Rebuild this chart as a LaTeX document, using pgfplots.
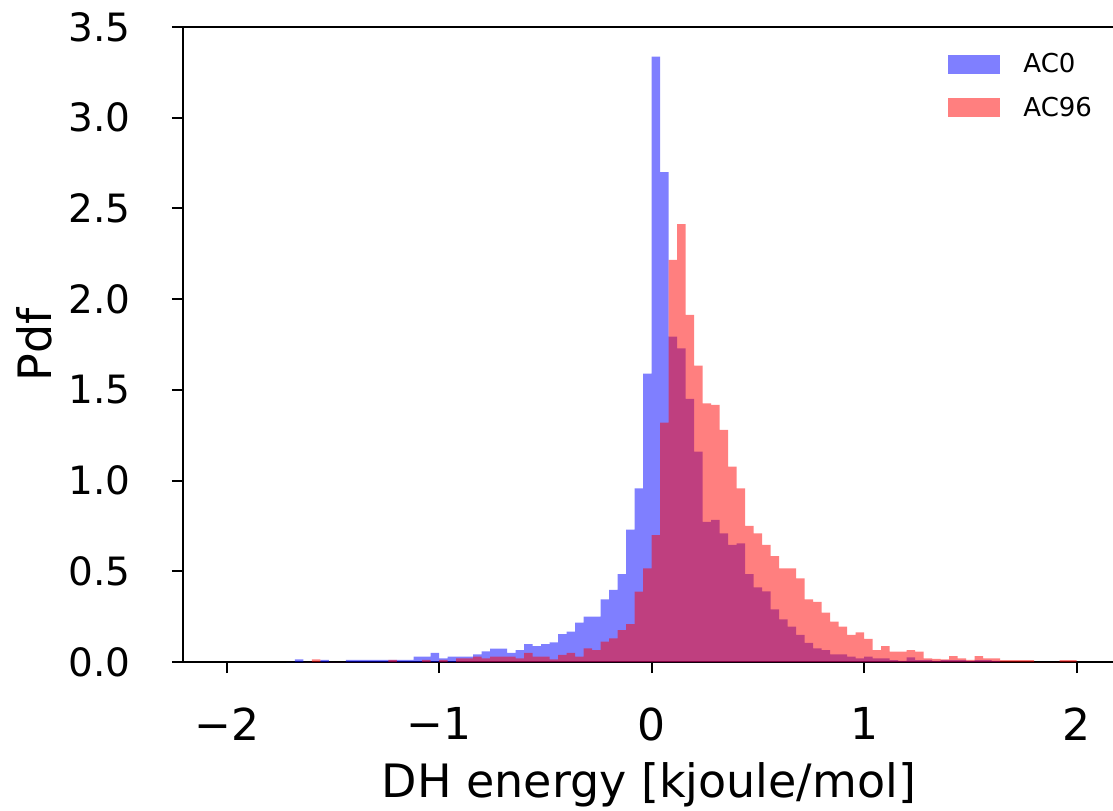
\documentclass[border=0pt]{standalone}
\usepackage{pgfplots}
\pgfplotsset{compat=1.18}
\usepackage{fontspec}
\setmainfont{DejaVu Sans}

% bin left edges (width 0.04) and pdf heights, last row closes the outline
\pgfplotstableread{
x y
-1.72 0
-1.68 0.015
-1.64 0
-1.60 0
-1.56 0.012
-1.52 0
-1.48 0
-1.44 0.012
-1.40 0.012
-1.36 0.012
-1.32 0.012
-1.28 0.012
-1.24 0.012
-1.20 0.012
-1.16 0.012
-1.12 0.03
-1.08 0.03
-1.04 0.05
-1.00 0.02
-0.96 0.03
-0.92 0.03
-0.88 0.03
-0.84 0.042
-0.80 0.059
-0.76 0.074
-0.72 0.074
-0.68 0.05
-0.64 0.066
-0.60 0.099
-0.56 0.088
-0.52 0.099
-0.48 0.108
-0.44 0.154
-0.40 0.167
-0.36 0.217
-0.32 0.25
-0.28 0.25
-0.24 0.345
-0.20 0.397
-0.16 0.485
-0.12 0.73
-0.08 0.957
-0.04 1.59
0.00 3.337
0.04 2.70
0.08 1.793
0.12 1.729
0.16 1.45
0.20 1.159
0.24 0.773
0.28 0.783
0.32 0.709
0.36 0.645
0.40 0.654
0.44 0.485
0.48 0.412
0.52 0.39
0.56 0.29
0.60 0.235
0.64 0.195
0.68 0.149
0.72 0.106
0.76 0.075
0.80 0.066
0.84 0.042
0.88 0.042
0.92 0.03
0.96 0.02
1.00 0.03
1.04 0.02
1.08 0.02
1.12 0.011
1.16 0.006
1.20 0.025
1.24 0.011
1.28 0.012
1.32 0.006
1.36 0.011
1.40 0.011
1.44 0.011
1.48 0.006
1.52 0.011
1.56 0.011
1.60 0.006
1.64 0
}\acz

\pgfplotstableread{
x y
-1.64 0
-1.60 0.015
-1.56 0
-1.52 0
-1.48 0
-1.44 0
-1.40 0
-1.36 0
-1.32 0
-1.28 0
-1.24 0.012
-1.20 0
-1.16 0
-1.12 0
-1.08 0.012
-1.04 0
-1.00 0.012
-0.96 0
-0.92 0.02
-0.88 0.02
-0.84 0.03
-0.80 0.02
-0.76 0.03
-0.72 0.03
-0.68 0.03
-0.64 0.02
-0.60 0.05
-0.56 0.03
-0.52 0.03
-0.48 0.015
-0.44 0.04
-0.40 0.05
-0.36 0.03
-0.32 0.075
-0.28 0.066
-0.24 0.112
-0.20 0.13
-0.16 0.176
-0.12 0.209
-0.08 0.388
-0.04 0.516
0.00 0.70
0.04 1.319
0.08 2.216
0.12 2.414
0.16 1.913
0.20 1.633
0.24 1.426
0.28 1.417
0.32 1.279
0.36 1.077
0.40 0.957
0.44 0.75
0.48 0.709
0.52 0.645
0.56 0.584
0.60 0.516
0.64 0.516
0.68 0.461
0.72 0.345
0.76 0.332
0.80 0.272
0.84 0.222
0.88 0.195
0.92 0.149
0.96 0.164
1.00 0.127
1.04 0.066
1.08 0.088
1.12 0.057
1.16 0.057
1.20 0.066
1.24 0.057
1.28 0.02
1.32 0.017
1.36 0.015
1.40 0.033
1.44 0.02
1.48 0.012
1.52 0.033
1.56 0.02
1.60 0.02
1.64 0.01
1.68 0.01
1.72 0.01
1.76 0.01
1.80 0
1.84 0
1.88 0
1.92 0.01
1.96 0.01
2.00 0.01
}\acn

\begin{document}
\begin{tikzpicture}
\path[use as bounding box] (0,0) rectangle (556.5pt,405pt);
\begin{axis}[
    at={(91.5pt,74pt)}, anchor=south west,
    scale only axis, width=465pt, height=317.5pt,
    xmin=-2.206, xmax=2.171, ymin=0, ymax=3.5,
    axis x line*=box, axis y line*=left,
    x axis line style={-}, y axis line style={-},
    axis line style={line width=1pt},
    xtick pos=bottom, ytick pos=left,
    tick align=outside,
    major tick length=5.5pt,
    tick style={line width=1pt, black},
    xtick={-2,-1,0,1,2},
    xticklabels={−2,−1,0,1,2},
    ytick={0,0.5,...,3.5},
    yticklabels={0.0,0.5,1.0,1.5,2.0,2.5,3.0,3.5},
    tick label style={inner sep=0pt},
    xticklabel style={anchor=north, font=\fontsize{22}{26}\selectfont},
    yticklabel style={anchor=east, font=\fontsize{19.5}{23}\selectfont},
    xticklabel shift=17pt,
    yticklabel shift=20.5pt,
    xlabel={DH energy [kjoule/mol]},
    ylabel={Pdf},
    every axis x label/.style={at={(axis description cs:0.501,-0.2126)}, anchor=base,
        inner sep=0pt, font=\fontsize{23}{27}\selectfont},
    every axis y label/.style={at={(axis description cs:-0.160,0.5)}, rotate=90, anchor=center,
        inner sep=0pt, font=\fontsize{23}{27}\selectfont},
    legend image code/.code={\fill[#1] (0pt,-4.75pt) rectangle (26pt,4.75pt);},
    legend style={draw=none, fill=none, at={(0.8226,0.959)}, anchor=north west,
        inner sep=0pt, column sep=11.5pt, row sep=10.5pt,
        font=\fontsize{13}{15}\selectfont, nodes={inner sep=0pt}},
    legend cell align=left,
]
\addplot[const plot, draw=none, fill=blue, fill opacity=0.5] table {\acz} \closedcycle;
\addlegendentry{AC0}
\addplot[const plot, draw=none, fill=red, fill opacity=0.5] table {\acn} \closedcycle;
\addlegendentry{AC96}
\end{axis}
\end{tikzpicture}
\end{document}
